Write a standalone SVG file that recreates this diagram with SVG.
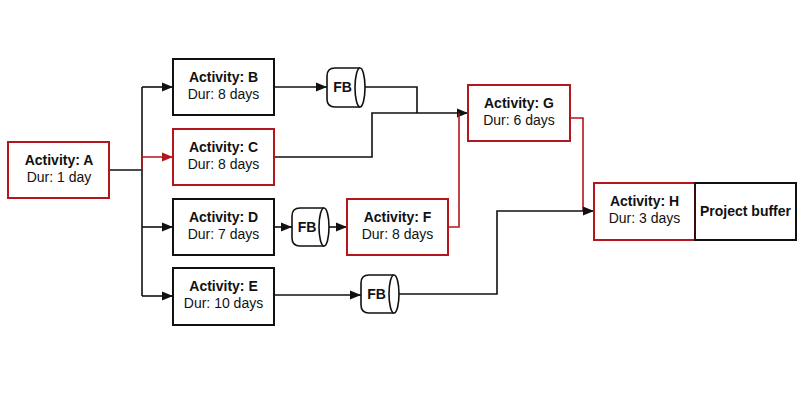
<svg xmlns="http://www.w3.org/2000/svg" width="800" height="418" viewBox="0 0 800 418">
<style>
text{font-family:"Liberation Sans",Arial,sans-serif;font-size:14px;fill:#111;text-anchor:middle}
.b{font-weight:bold}
.box{fill:#fff;stroke:#111;stroke-width:2}
.red{fill:#fff;stroke:#b3161c;stroke-width:2}
.cn{fill:none;stroke:#111;stroke-width:1.6}
.cr{fill:none;stroke:#b3161c;stroke-width:1.6}
.cyl{fill:#fff;stroke:#111;stroke-width:1.6}
</style>
<defs>
<marker id="ah" viewBox="0 0 10 10" refX="10" refY="5" markerWidth="7" markerHeight="7" markerUnits="strokeWidth" orient="auto"><path d="M0,1 L10,5 L0,9 Z" fill="#111"/></marker>
<marker id="ahr" viewBox="0 0 10 10" refX="10" refY="5" markerWidth="7" markerHeight="7" markerUnits="strokeWidth" orient="auto"><path d="M0,1 L10,5 L0,9 Z" fill="#b3161c"/></marker>
</defs>
<rect width="800" height="418" fill="#fff"/>
<g id="connectors">
<path class="cn" d="M109,170 H142"/>
<path class="cn" d="M142,87 V296"/>
<path class="cn" d="M142,87 H173" marker-end="url(#ah)"/>
<path class="cn" d="M142,227 H173" marker-end="url(#ah)"/>
<path class="cn" d="M142,296 H173" marker-end="url(#ah)"/>
<path class="cr" d="M142,170 V157 H173" marker-end="url(#ahr)"/>
<path class="cn" d="M274,87 H327" marker-end="url(#ah)"/>
<path class="cn" d="M365,87 H417 V113"/>
<path class="cn" d="M274,157 H372 V113 H468" marker-end="url(#ah)"/>
<path class="cn" d="M274,227 H292" marker-end="url(#ah)"/>
<path class="cn" d="M329,227 H347" marker-end="url(#ah)"/>
<path class="cn" d="M274,295 H361" marker-end="url(#ah)"/>
<path class="cr" d="M448,227 H459 V113"/>
<path class="cr" d="M570,118 H583 V211"/>
<path class="cn" d="M399,294 H497 V211 H594" marker-end="url(#ah)"/>
</g>
<g id="nodeA"><rect class="red" x="8" y="142" width="101" height="56"/><text class="b" x="59" y="165">Activity: A</text><text x="59" y="182">Dur: 1 day</text></g>
<g id="nodeB"><rect class="box" x="173" y="59" width="101" height="56"/><text class="b" x="223.5" y="82">Activity: B</text><text x="223.5" y="99">Dur: 8 days</text></g>
<g id="nodeC"><rect class="red" x="173" y="129" width="101" height="56"/><text class="b" x="223.5" y="152">Activity: C</text><text x="223.5" y="169">Dur: 8 days</text></g>
<g id="nodeD"><rect class="box" x="173" y="199" width="101" height="56"/><text class="b" x="223.5" y="222">Activity: D</text><text x="223.5" y="239">Dur: 7 days</text></g>
<g id="nodeE"><rect class="box" x="173" y="268" width="101" height="57"/><text class="b" x="223.5" y="291">Activity: E</text><text x="223.5" y="308">Dur: 10 days</text></g>
<g id="nodeF"><rect class="red" x="347" y="199" width="101" height="56"/><text class="b" x="397.5" y="222">Activity: F</text><text x="397.5" y="239">Dur: 8 days</text></g>
<g id="nodeG"><rect class="red" x="468" y="85" width="102" height="56"/><text class="b" x="519" y="108">Activity: G</text><text x="519" y="125">Dur: 6 days</text></g>
<g id="nodeH"><rect class="red" x="594" y="183" width="101" height="57"/><text class="b" x="644.5" y="206">Activity: H</text><text x="644.5" y="223">Dur: 3 days</text></g>
<g id="nodePB"><rect class="box" x="695" y="183" width="101" height="57"/><path d="M695,183 V240" stroke="#3a0a0a" stroke-width="2"/><text class="b" x="745.5" y="216">Project buffer</text></g>
<g id="fb1" transform="translate(327,68)"><path class="cyl" d="M8,0 H33 A5,19.5 0 0 1 33,39 H8 Q0,39 0,31 V8 Q0,0 8,0 Z"/><path class="cyl" d="M33,0 A5,19.5 0 0 0 33,39"/><text class="b" x="15.5" y="24">FB</text></g>
<g id="fb2" transform="translate(292,208)"><path class="cyl" d="M8,0 H32 A5,19 0 0 1 32,38 H8 Q0,38 0,30 V8 Q0,0 8,0 Z"/><path class="cyl" d="M32,0 A5,19 0 0 0 32,38"/><text class="b" x="15" y="24">FB</text></g>
<g id="fb3" transform="translate(361,275)"><path class="cyl" d="M8,0 H33 A5,19 0 0 1 33,38 H8 Q0,38 0,30 V8 Q0,0 8,0 Z"/><path class="cyl" d="M33,0 A5,19 0 0 0 33,38"/><text class="b" x="15.5" y="24">FB</text></g>
</svg>
